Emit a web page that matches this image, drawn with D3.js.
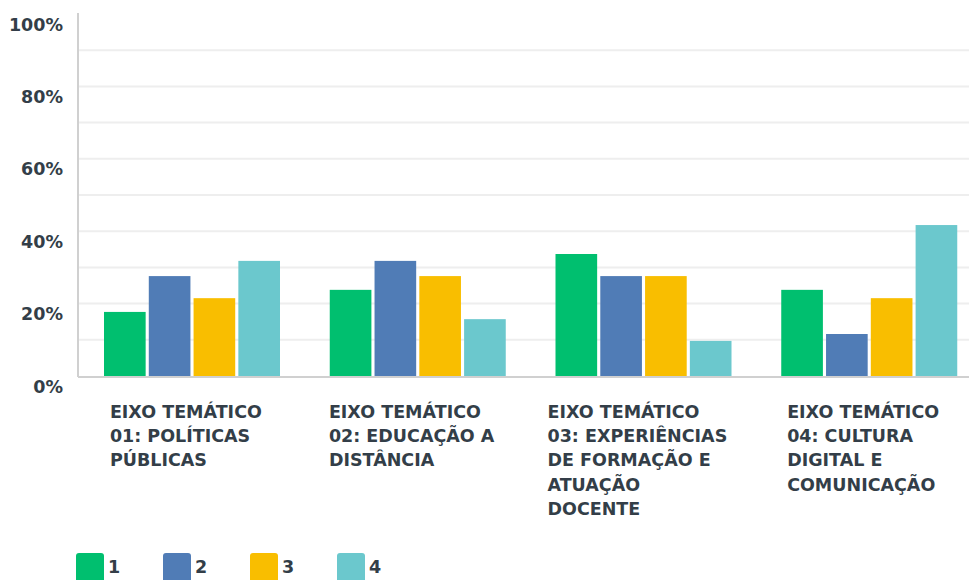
<!doctype html>
<html>
<head>
<meta charset="UTF-8">
<script src="https://d3js.org/d3.v7.min.js"></script>
<style>
	body { margin: 0; background: #fff; }
	text { font-family: "DejaVu Sans", sans-serif; font-weight: bold; fill: #333e48; }
</style>
</head>
<body>
	<svg id="chart"></svg>

	<script>
		// data (share of answers per option)
		const categories = [
			"EIXO TEMÁTICO 01: POLÍTICAS PÚBLICAS",
			"EIXO TEMÁTICO 02: EDUCAÇÃO A DISTÂNCIA",
			"EIXO TEMÁTICO 03: EXPERIÊNCIAS DE FORMAÇÃO E ATUAÇÃO DOCENTE",
			"EIXO TEMÁTICO 04: CULTURA DIGITAL E COMUNICAÇÃO"
		];
		const seriesNames = ["1", "2", "3", "4"];
		const series1 = [0.177, 0.238, 0.337, 0.238];
		const series2 = [0.276, 0.318, 0.276, 0.116];
		const series3 = [0.215, 0.276, 0.276, 0.215];
		const series4 = [0.318, 0.157, 0.097, 0.417];
		const yTicks = [0, 0.2, 0.4, 0.6, 0.8, 1];
		const colors = ["#00bf6f", "#507cb6", "#f9be00", "#6bc8cd"];

		(function(){
			const W = 969, H = 580;
			const left = 78, base = 376, top = 14;
			const fontSize = "17.5px";

			const svg = d3.select("#chart")
				.attr("width", W)
				.attr("height", H);

			const allSeries = [series1, series2, series3, series4];
			const rows = categories.map((c, i) => ({
				cat: c,
				vals: seriesNames.map((s, j) => ({ key: s, value: allSeries[j][i] }))
			}));

			const y = d3.scaleLinear().domain([0, 1]).range([base, top]);
			const x0 = d3.scaleBand().domain(categories).range([79, 982]);
			const x1 = d3.scaleBand().domain(seriesNames).range([25, 201]).paddingInner(0.07);
			const color = d3.scaleOrdinal().domain(seriesNames).range(colors);

			// grid lines every 10%
			svg.append("g").selectAll("line")
				.data(d3.range(0.1, 0.95, 0.1))
				.join("line")
				.attr("x1", left).attr("x2", W)
				.attr("y1", d => y(d)).attr("y2", d => y(d))
				.attr("stroke", "#eeeeee")
				.attr("stroke-width", 2);

			// y axis labels (sit a bit below their grid line, like the original)
			const yAxis = svg.append("g")
				.attr("transform", "translate(" + left + ",0)")
				.call(d3.axisLeft(y).tickValues(yTicks).tickFormat(d3.format(".0%")).tickSize(0).tickPadding(15));
			yAxis.select(".domain").remove();
			yAxis.selectAll("text")
				.attr("dy", "0.92em")
				.style("font-size", fontSize)
				.style("font-family", "'DejaVu Sans', sans-serif")
				.style("font-weight", "bold")
				.attr("fill", "#333e48");

			// bars
			svg.append("g").selectAll("g")
				.data(rows)
				.join("g")
				.attr("transform", d => "translate(" + x0(d.cat) + ",0)")
				.selectAll("rect")
				.data(d => d.vals)
				.join("rect")
				.attr("x", d => x1(d.key))
				.attr("y", d => y(d.value))
				.attr("width", x1.bandwidth())
				.attr("height", d => base - y(d.value))
				.attr("fill", d => color(d.key));

			// axis lines
			svg.append("line")
				.attr("x1", left).attr("x2", left)
				.attr("y1", 13).attr("y2", base + 1)
				.attr("stroke", "#d0d0d0").attr("stroke-width", 2);
			svg.append("line")
				.attr("x1", left).attr("x2", W)
				.attr("y1", base + 1).attr("y2", base + 1)
				.attr("stroke", "#d0d0d0").attr("stroke-width", 2);

			// category labels, wrapped and centred as a block under each group
			const wrapWidth = 182;
			categories.forEach(function(c){
				const t = svg.append("text")
					.style("font-size", fontSize);
				const words = c.split(" ");
				let lines = [], line = [];
				words.forEach(function(w){
					line.push(w);
					t.text(line.join(" "));
					if (t.node().getComputedTextLength() > wrapWidth && line.length > 1) {
						line.pop();
						lines.push(line.join(" "));
						line = [w];
					}
				});
				lines.push(line.join(" "));
				t.text(null);
				let widest = 0;
				lines.forEach(function(l, i){
					const ts = t.append("tspan").text(l).attr("dy", i === 0 ? 0 : 24.4);
					widest = Math.max(widest, ts.node().getComputedTextLength());
				});
				const cx = x0(c) + x0.bandwidth() / 2 - 6;
				const lx = cx - widest / 2;
				t.attr("x", lx).attr("y", 417.5);
				t.selectAll("tspan").attr("x", lx);
			});

			// legend
			const legend = svg.append("g").selectAll("g")
				.data(seriesNames)
				.join("g")
				.attr("transform", (d, i) => "translate(" + (76 + i * 87) + ",553)");
			legend.append("rect")
				.attr("width", 28).attr("height", 30)
				.attr("rx", 3)
				.attr("fill", d => color(d));
			legend.append("text")
				.attr("x", 32).attr("y", 19.5)
				.style("font-size", fontSize)
				.text(d => d);
		})();
	</script>
</body>
</html>
